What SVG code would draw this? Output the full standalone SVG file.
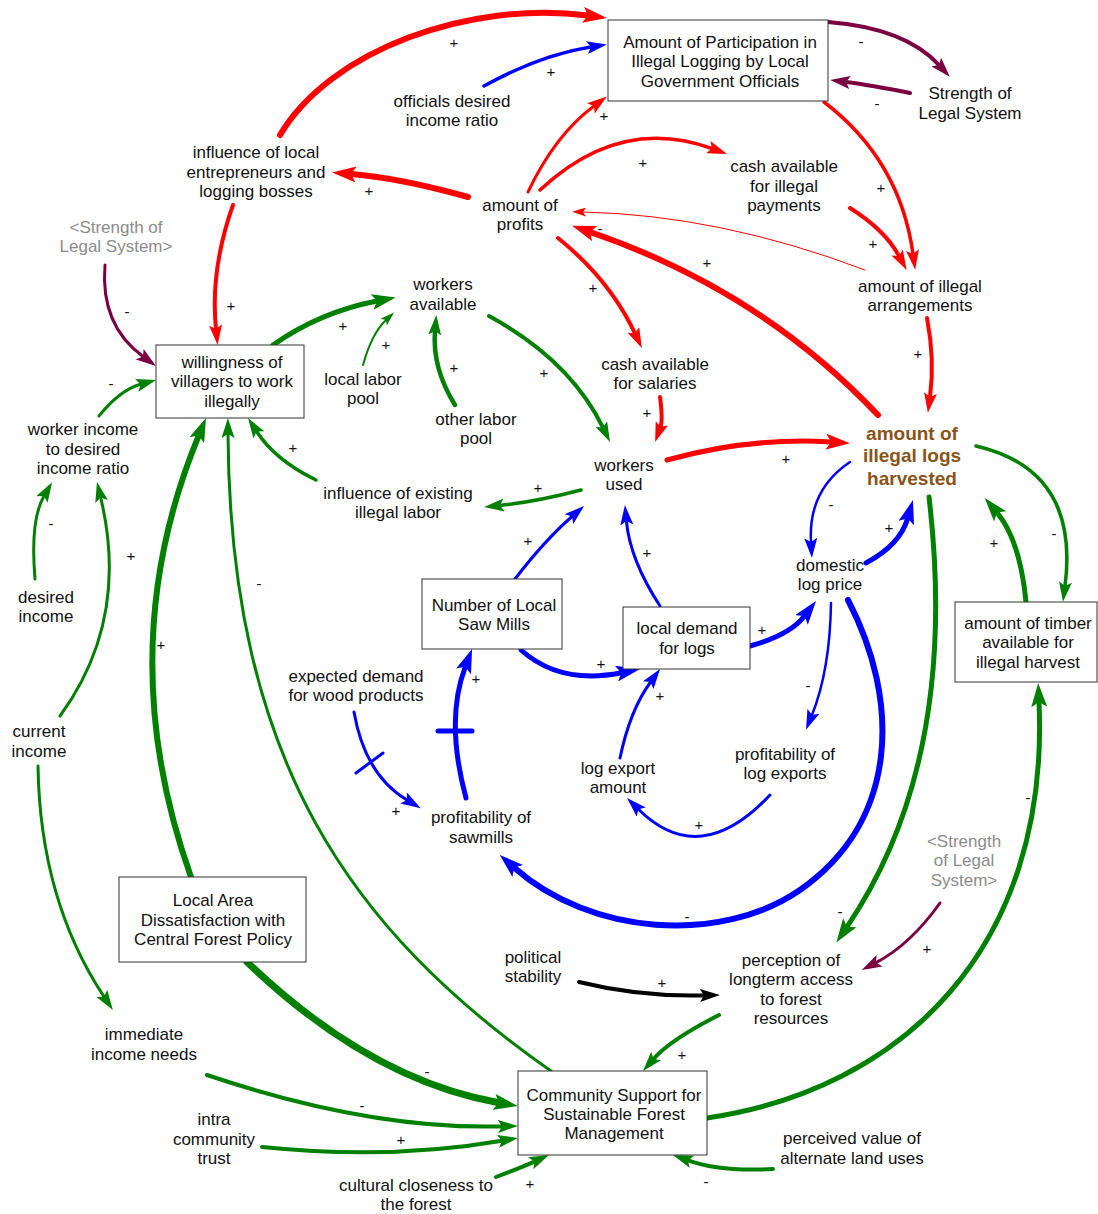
<svg xmlns="http://www.w3.org/2000/svg" width="1098" height="1214" viewBox="0 0 1098 1214">
<style>
text{font-family:"Liberation Sans",Arial,sans-serif;text-anchor:middle}
.t{font-size:17px;fill:#111}
.gy{font-size:17px;fill:#8c8c8c}
.hb{font-size:19px;font-weight:bold;fill:#8a5317}
.p{font-size:15px;fill:#111}
.box{fill:#fff;stroke:#333;stroke-width:1}
.c{fill:none;stroke-linecap:round}
.r{stroke:#ff0000}.g{stroke:#008000}.b{stroke:#0000ff}.u{stroke:#7a0041}.k{stroke:#000}
</style>
<defs>
<marker id="rL" markerUnits="userSpaceOnUse" markerWidth="24" markerHeight="16" refX="5" refY="8" orient="auto"><path d="M0,0 L24,8 L0,16 L5,8 z" fill="#ff0000"/></marker>
<marker id="rM" markerUnits="userSpaceOnUse" markerWidth="20" markerHeight="13" refX="4" refY="6.5" orient="auto"><path d="M0,0 L20,6.5 L0,13 L4,6.5 z" fill="#ff0000"/></marker>
<marker id="rS" markerUnits="userSpaceOnUse" markerWidth="14" markerHeight="9" refX="3" refY="4.5" orient="auto"><path d="M0,0 L14,4.5 L0,9 L3,4.5 z" fill="#ff0000"/></marker>
<marker id="gL" markerUnits="userSpaceOnUse" markerWidth="24" markerHeight="16" refX="5" refY="8" orient="auto"><path d="M0,0 L24,8 L0,16 L5,8 z" fill="#008000"/></marker>
<marker id="gM" markerUnits="userSpaceOnUse" markerWidth="20" markerHeight="13" refX="4" refY="6.5" orient="auto"><path d="M0,0 L20,6.5 L0,13 L4,6.5 z" fill="#008000"/></marker>
<marker id="gS" markerUnits="userSpaceOnUse" markerWidth="14" markerHeight="9" refX="3" refY="4.5" orient="auto"><path d="M0,0 L14,4.5 L0,9 L3,4.5 z" fill="#008000"/></marker>
<marker id="bL" markerUnits="userSpaceOnUse" markerWidth="24" markerHeight="16" refX="5" refY="8" orient="auto"><path d="M0,0 L24,8 L0,16 L5,8 z" fill="#0000ff"/></marker>
<marker id="bM" markerUnits="userSpaceOnUse" markerWidth="20" markerHeight="13" refX="4" refY="6.5" orient="auto"><path d="M0,0 L20,6.5 L0,13 L4,6.5 z" fill="#0000ff"/></marker>
<marker id="uM" markerUnits="userSpaceOnUse" markerWidth="20" markerHeight="13" refX="4" refY="6.5" orient="auto"><path d="M0,0 L20,6.5 L0,13 L4,6.5 z" fill="#7a0041"/></marker>
<marker id="kM" markerUnits="userSpaceOnUse" markerWidth="20" markerHeight="13" refX="4" refY="6.5" orient="auto"><path d="M0,0 L20,6.5 L0,13 L4,6.5 z" fill="#000"/></marker>
</defs>
<rect width="1098" height="1214" fill="#fff"/>
<g id="connectors">
<path class="c r" stroke-width="6" marker-end="url(#rL)" d="M280,135 C330,50 470,0 588,15.5"/>
<path class="c b" stroke-width="3.5" marker-end="url(#bM)" d="M484,86 Q540,55 591,47"/>
<path class="c r" stroke-width="3" marker-end="url(#rM)" d="M528,192 Q555,135 594,106"/>
<path class="c u" stroke-width="4" marker-end="url(#uM)" d="M828,22 Q905,28 939,65"/>
<path class="c u" stroke-width="4" marker-end="url(#uM)" d="M910,93 Q870,85 846,82"/>
<path class="c r" stroke-width="3.5" marker-end="url(#rM)" d="M824,102 Q900,160 913,254"/>
<path class="c r" stroke-width="3.5" marker-end="url(#rM)" d="M540,190 Q620,115 712,148.5"/>
<path class="c r" stroke-width="4" marker-end="url(#rM)" d="M850,208 Q885,230 899,256"/>
<path class="c r" stroke-width="1" marker-end="url(#rS)" d="M865,270 Q720,215 583,212"/>
<path class="c r" stroke-width="6" marker-end="url(#rL)" d="M878,415 Q760,290 590,232"/>
<path class="c r" stroke-width="6" marker-end="url(#rL)" d="M468,197 Q400,178 351,174"/>
<path class="c r" stroke-width="4" marker-end="url(#rM)" d="M233,205 Q210,270 216,329"/>
<path class="c r" stroke-width="4" marker-end="url(#rM)" d="M558,238 Q610,280 635,333.5"/>
<path class="c r" stroke-width="4" marker-end="url(#rM)" d="M660,397 Q663,420 660.5,427"/>
<path class="c r" stroke-width="5" marker-end="url(#rL)" d="M667,460 Q750,437 831,442"/>
<path class="c r" stroke-width="4" marker-end="url(#rM)" d="M927,318 Q935,360 930,397"/>
<path class="c u" stroke-width="3" marker-end="url(#uM)" d="M105,265 Q100,325 143,356.5"/>
<path class="c g" stroke-width="5" marker-end="url(#gL)" d="M273,345 Q320,312 377,301"/>
<path class="c g" stroke-width="2" marker-end="url(#gS)" d="M363,365 Q372,333 386,320"/>
<path class="c g" stroke-width="4.5" marker-end="url(#gM)" d="M455,405 Q432,368 435,331"/>
<path class="c g" stroke-width="4" marker-end="url(#gM)" d="M489,316 Q570,360 603,427.6"/>
<path class="c g" stroke-width="3.5" marker-end="url(#gM)" d="M581,490 Q535,502 500,505.4"/>
<path class="c g" stroke-width="3.5" marker-end="url(#gM)" d="M316,480 Q275,460 256.7,431.5"/>
<path class="c g" stroke-width="3" marker-end="url(#gM)" d="M99,416 Q120,390 140.6,384.3"/>
<path class="c g" stroke-width="3" marker-end="url(#gM)" d="M35,579 Q30,520 44,496"/>
<path class="c g" stroke-width="3" marker-end="url(#gM)" d="M60,716 Q130,620 100.7,497.6"/>
<path class="c g" stroke-width="6" marker-end="url(#gL)" d="M191,877 Q110,650 198.7,435.6"/>
<path class="c g" stroke-width="3" marker-end="url(#gM)" d="M551,1071 C350,930 230,760 228,434"/>
<path class="c g" stroke-width="3" marker-end="url(#gM)" d="M38,766 Q40,900 104,996.7"/>
<path class="c g" stroke-width="7" marker-end="url(#gL)" d="M247,962 Q370,1080 499,1102.7"/>
<path class="c g" stroke-width="4" marker-end="url(#gM)" d="M207,1075 Q370,1130 502,1126.4"/>
<path class="c g" stroke-width="4" marker-end="url(#gM)" d="M262,1147 Q390,1160 502,1140.7"/>
<path class="c g" stroke-width="4" marker-end="url(#gM)" d="M496,1177 Q520,1168 534.4,1161.6"/>
<path class="c g" stroke-width="4" marker-end="url(#gM)" d="M773,1169 Q720,1172 688,1160.4"/>
<path class="c g" stroke-width="4" marker-end="url(#gM)" d="M719,1015 Q670,1040 653.5,1059"/>
<path class="c k" stroke-width="4" marker-end="url(#kM)" d="M579,982 Q640,997 704,995.4"/>
<path class="c u" stroke-width="3" marker-end="url(#uM)" d="M940,903 Q910,945 876,962.6"/>
<path class="c g" stroke-width="5" marker-end="url(#gL)" d="M929,497 Q960,760 847,926.8"/>
<path class="c g" stroke-width="5" marker-end="url(#gL)" d="M707,1118 C900,1090 1050,950 1039,702"/>
<path class="c g" stroke-width="5" marker-end="url(#gL)" d="M1026,602 Q1020,540 997,512.6"/>
<path class="c g" stroke-width="3.5" marker-end="url(#gM)" d="M976,446 Q1080,470 1065,586"/>
<path class="c b" stroke-width="2.5" marker-end="url(#bM)" d="M850,462 Q808,490 811,542"/>
<path class="c b" stroke-width="5" marker-end="url(#bL)" d="M866,563 Q900,545 907.7,518.3"/>
<path class="c b" stroke-width="5" marker-end="url(#bL)" d="M750,646 Q790,635 804.5,616"/>
<path class="c b" stroke-width="2.5" marker-end="url(#bM)" d="M831,603 Q830,670 812,715"/>
<path class="c b" stroke-width="3" marker-end="url(#bM)" d="M770,795 Q700,870 638.4,809.2"/>
<path class="c b" stroke-width="3" marker-end="url(#bM)" d="M620,758 Q630,710 650.6,682"/>
<path class="c b" stroke-width="3" marker-end="url(#bM)" d="M660,606 Q630,560 626.4,521"/>
<path class="c b" stroke-width="3" marker-end="url(#bM)" d="M515,579 Q545,540 572,516.5"/>
<path class="c b" stroke-width="5" marker-end="url(#bL)" d="M521,650 Q560,685 621.4,672.7"/>
<path class="c b" stroke-width="5" marker-end="url(#bL)" d="M466,798 Q445,720 465.3,666.8"/>
<path class="c b" stroke-width="5" d="M438,731 L472,731"/>
<path class="c b" stroke-width="3" marker-end="url(#bM)" d="M354,712 Q365,775 407,800"/>
<path class="c b" stroke-width="3" d="M356,773 L383,753"/>
<path class="c b" stroke-width="6" marker-end="url(#bL)" d="M848,600 C900,700 900,820 800,890 C720,945 590,935 514,867.6"/>
</g>
<g id="polarities">
<text class="p" x="454" y="48">+</text>
<text class="p" x="551" y="77">+</text>
<text class="p" x="604" y="121">+</text>
<text class="p" x="861" y="47">-</text>
<text class="p" x="877" y="109">-</text>
<text class="p" x="881" y="193">+</text>
<text class="p" x="643" y="168">+</text>
<text class="p" x="873" y="249">+</text>
<text class="p" x="600" y="234">-</text>
<text class="p" x="707" y="268">+</text>
<text class="p" x="369" y="196">+</text>
<text class="p" x="231" y="311">+</text>
<text class="p" x="593" y="293">+</text>
<text class="p" x="647" y="418">+</text>
<text class="p" x="786" y="464">+</text>
<text class="p" x="918" y="359">+</text>
<text class="p" x="127" y="317">-</text>
<text class="p" x="343" y="331">+</text>
<text class="p" x="386" y="350">+</text>
<text class="p" x="454" y="373">+</text>
<text class="p" x="544" y="378">+</text>
<text class="p" x="538" y="493">+</text>
<text class="p" x="293" y="453">+</text>
<text class="p" x="111" y="389">-</text>
<text class="p" x="51" y="529">-</text>
<text class="p" x="131" y="561">+</text>
<text class="p" x="161" y="650">+</text>
<text class="p" x="259" y="589">-</text>
<text class="p" x="427" y="1077">-</text>
<text class="p" x="362" y="1111">-</text>
<text class="p" x="401" y="1145">+</text>
<text class="p" x="530" y="1189">+</text>
<text class="p" x="706" y="1187">-</text>
<text class="p" x="682" y="1060">+</text>
<text class="p" x="662" y="988">+</text>
<text class="p" x="927" y="954">+</text>
<text class="p" x="840" y="917">-</text>
<text class="p" x="1028" y="803">-</text>
<text class="p" x="994" y="548">+</text>
<text class="p" x="1054" y="539">-</text>
<text class="p" x="831" y="510">-</text>
<text class="p" x="889" y="533">+</text>
<text class="p" x="762" y="635">+</text>
<text class="p" x="808" y="691">-</text>
<text class="p" x="699" y="830">+</text>
<text class="p" x="660" y="701">+</text>
<text class="p" x="647" y="558">+</text>
<text class="p" x="528" y="546">+</text>
<text class="p" x="601" y="669">+</text>
<text class="p" x="476" y="684">+</text>
<text class="p" x="396" y="816">+</text>
<text class="p" x="687" y="922">-</text>
</g>
<g id="n_participation"><rect class="box" x="608" y="20" width="220" height="81"/><text class="t" x="720" y="48">Amount of Participation in</text><text class="t" x="720" y="67">Illegal Logging by Local</text><text class="t" x="720" y="87">Government Officials</text></g>
<g id="n_strength"><text class="t" x="970" y="99">Strength of</text><text class="t" x="970" y="119">Legal System</text></g>
<g id="n_officials"><text class="t" x="452" y="107">officials desired</text><text class="t" x="452" y="126">income ratio</text></g>
<g id="n_influence_local"><text class="t" x="256" y="158">influence of local</text><text class="t" x="256" y="178">entrepreneurs and</text><text class="t" x="256" y="197">logging bosses</text></g>
<g id="n_profits"><text class="t" x="520" y="211">amount of</text><text class="t" x="520" y="230">profits</text></g>
<g id="n_cash_illegal"><text class="t" x="784" y="172">cash available</text><text class="t" x="784" y="192">for illegal</text><text class="t" x="784" y="211">payments</text></g>
<g id="n_arrangements"><text class="t" x="920" y="292">amount of illegal</text><text class="t" x="920" y="311">arrangements</text></g>
<g id="n_strength_shadow1"><text class="gy" x="116" y="233">&lt;Strength of</text><text class="gy" x="116" y="252">Legal System&gt;</text></g>
<g id="n_workers_available"><text class="t" x="443" y="290">workers</text><text class="t" x="443" y="310">available</text></g>
<g id="n_willingness"><rect class="box" x="156" y="345" width="148" height="73"/><text class="t" x="232" y="368">willingness of</text><text class="t" x="232" y="387">villagers to work</text><text class="t" x="232" y="407">illegally</text></g>
<g id="n_local_labor"><text class="t" x="363" y="385">local labor</text><text class="t" x="363" y="404">pool</text></g>
<g id="n_other_labor"><text class="t" x="476" y="425">other labor</text><text class="t" x="476" y="444">pool</text></g>
<g id="n_cash_salaries"><text class="t" x="655" y="370">cash available</text><text class="t" x="655" y="389">for salaries</text></g>
<g id="n_illegal_logs"><text class="hb" x="912" y="440">amount of</text><text class="hb" x="912" y="462">illegal logs</text><text class="hb" x="912" y="485">harvested</text></g>
<g id="n_worker_income"><text class="t" x="83" y="435">worker income</text><text class="t" x="83" y="455">to desired</text><text class="t" x="83" y="474">income ratio</text></g>
<g id="n_workers_used"><text class="t" x="624" y="471">workers</text><text class="t" x="624" y="490">used</text></g>
<g id="n_influence_existing"><text class="t" x="398" y="499">influence of existing</text><text class="t" x="398" y="518">illegal labor</text></g>
<g id="n_domestic_price"><text class="t" x="830" y="571">domestic</text><text class="t" x="830" y="590">log price</text></g>
<g id="n_sawmills"><rect class="box" x="422" y="579" width="140" height="70"/><text class="t" x="494" y="611">Number of Local</text><text class="t" x="494" y="630">Saw Mills</text></g>
<g id="n_local_demand"><rect class="box" x="623" y="607" width="127" height="62"/><text class="t" x="687" y="634">local demand</text><text class="t" x="687" y="654">for logs</text></g>
<g id="n_timber"><rect class="box" x="955" y="602" width="142" height="80"/><text class="t" x="1028" y="629">amount of timber</text><text class="t" x="1028" y="648">available for</text><text class="t" x="1028" y="668">illegal harvest</text></g>
<g id="n_desired_income"><text class="t" x="46" y="603">desired</text><text class="t" x="46" y="622">income</text></g>
<g id="n_expected_demand"><text class="t" x="356" y="682">expected demand</text><text class="t" x="356" y="701">for wood products</text></g>
<g id="n_current_income"><text class="t" x="39" y="737">current</text><text class="t" x="39" y="757">income</text></g>
<g id="n_log_export_amount"><text class="t" x="618" y="774">log export</text><text class="t" x="618" y="793">amount</text></g>
<g id="n_profit_exports"><text class="t" x="785" y="760">profitability of</text><text class="t" x="785" y="779">log exports</text></g>
<g id="n_profit_sawmills"><text class="t" x="481" y="823">profitability of</text><text class="t" x="481" y="843">sawmills</text></g>
<g id="n_strength_shadow2"><text class="gy" x="964" y="847">&lt;Strength</text><text class="gy" x="964" y="866">of Legal</text><text class="gy" x="964" y="886">System&gt;</text></g>
<g id="n_dissatisfaction"><rect class="box" x="119" y="877" width="187" height="85"/><text class="t" x="213" y="906">Local Area</text><text class="t" x="213" y="926">Dissatisfaction with</text><text class="t" x="213" y="945">Central Forest Policy</text></g>
<g id="n_political"><text class="t" x="533" y="963">political</text><text class="t" x="533" y="982">stability</text></g>
<g id="n_perception"><text class="t" x="791" y="966">perception of</text><text class="t" x="791" y="985">longterm access</text><text class="t" x="791" y="1005">to forest</text><text class="t" x="791" y="1024">resources</text></g>
<g id="n_immediate"><text class="t" x="144" y="1040">immediate</text><text class="t" x="144" y="1060">income needs</text></g>
<g id="n_community"><rect class="box" x="518" y="1071" width="189" height="84"/><text class="t" x="614" y="1101">Community Support for</text><text class="t" x="614" y="1120">Sustainable Forest</text><text class="t" x="614" y="1139">Management</text></g>
<g id="n_intra"><text class="t" x="214" y="1125">intra</text><text class="t" x="214" y="1145">community</text><text class="t" x="214" y="1164">trust</text></g>
<g id="n_perceived_value"><text class="t" x="852" y="1144">perceived value of</text><text class="t" x="852" y="1164">alternate land uses</text></g>
<g id="n_cultural"><text class="t" x="416" y="1191">cultural closeness to</text><text class="t" x="416" y="1210">the forest</text></g>
</svg>
